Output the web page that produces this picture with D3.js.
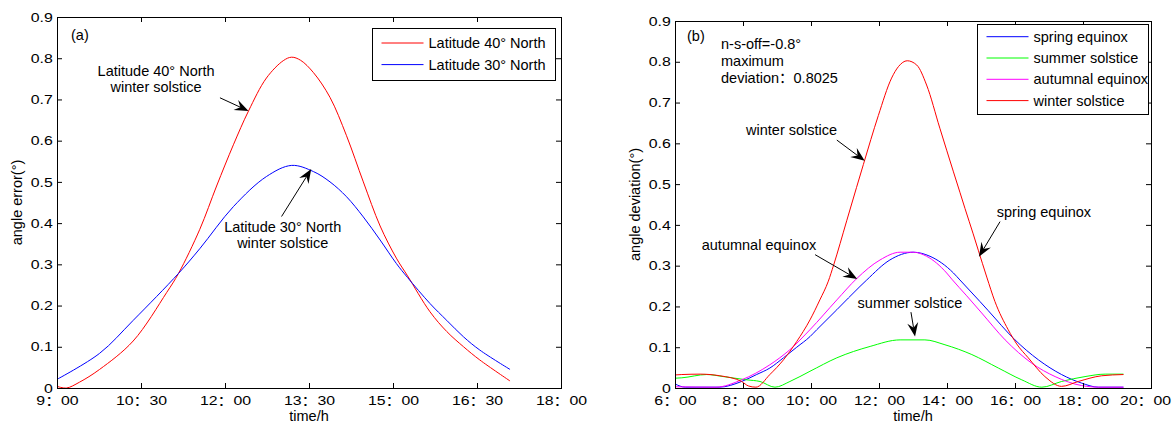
<!DOCTYPE html>
<html>
<head>
<meta charset="utf-8">
<script src="https://cdn.jsdelivr.net/npm/d3@7"></script>
<style>
body { margin: 0; background: #fff; }
text { font-family: "Liberation Sans", Arial, "Noto Sans CJK SC", sans-serif; }
</style>
</head>
<body>
<div id="chart"></div>
<script>
// ---- values ----

// axis ticks
const yTicks = [0, 0.1, 0.2, 0.3, 0.4, 0.5, 0.6, 0.7, 0.8, 0.9];
const yTickLabels = ["0", "0.1", "0.2", "0.3", "0.4", "0.5", "0.6", "0.7", "0.8", "0.9"];
const leftTicks = [9, 10.5, 12, 13.5, 15, 16.5, 18];
const leftTickLabels = ["9：00", "10：30", "12：00", "13：30", "15：00", "16：30", "18：00"];
const rightTicks = [6, 8, 10, 12, 14, 16, 18, 20];
const rightTickLabels = ["6：00", "8：00", "10：00", "12：00", "14：00", "16：00", "18：00", "20：00"];

// (a) angle error, winter solstice
const lat40Hours = [9.0, 9.17, 9.4, 9.76, 10.36, 10.96, 11.17, 11.55, 11.85, 12.15, 12.42, 12.74, 13.04, 13.19,
                    13.35, 13.58, 13.875, 14.17, 14.47, 14.77, 15.06, 15.26, 15.66, 15.96, 16.26, 16.55, 17.09];
const lat40Error = [0.004, 0.0, 0.014, 0.045, 0.114, 0.232, 0.278, 0.385, 0.49, 0.59, 0.672, 0.752, 0.794, 0.8025,
                    0.795, 0.765, 0.705, 0.612, 0.50, 0.393, 0.315, 0.272, 0.185, 0.137, 0.100, 0.068, 0.017];
const lat30Hours = [9.0, 9.76, 10.36, 11.17, 11.55, 12.15, 12.74, 13.19, 13.58, 13.875, 14.17, 14.47, 14.77,
                    15.06, 15.26, 15.66, 15.96, 16.26, 16.55, 17.09];
const lat30Error = [0.021, 0.084, 0.164, 0.278, 0.338, 0.44, 0.513, 0.54, 0.525, 0.50, 0.464, 0.415, 0.359,
                    0.302, 0.268, 0.205, 0.164, 0.124, 0.092, 0.045];

// (b) angle deviation, four seasons
const springHours = [6.0, 6.3, 7.3, 7.96, 8.4, 8.79, 9.19, 9.58, 9.97, 10.17, 10.76, 11.44, 11.64, 12.32, 13.01,
                     13.5, 14.19, 14.38, 14.97, 15.21, 16.0, 16.69, 17.37, 17.96, 18.45, 19.19];
const springDev = [0.010, 0.002, 0.002, 0.016, 0.033, 0.049, 0.074, 0.100, 0.126, 0.143, 0.192, 0.249, 0.265, 0.314, 0.333,
                   0.323, 0.282, 0.265, 0.212, 0.19, 0.118, 0.069, 0.033, 0.012, 0.002, 0.002];
const summerHours = [6.0, 6.2, 6.93, 7.42, 8.11, 8.5, 8.94, 9.38, 9.97, 10.76, 11.74, 12.62, 13.35, 13.94, 14.73,
                     15.51, 16.2, 16.79, 17.37, 18.06, 18.65, 19.19];
const summerDev = [0.024, 0.025, 0.033, 0.028, 0.020, 0.016, 0.002, 0.016, 0.041, 0.074, 0.102, 0.118, 0.118, 0.106, 0.082,
                   0.049, 0.020, 0.002, 0.016, 0.028, 0.034, 0.034];
const autumnHours = [6.0, 7.2, 7.96, 8.79, 9.38, 9.97, 10.76, 11.34, 12.03, 12.62, 13.01, 13.40, 13.99, 14.14, 14.58,
                     15.02, 15.71, 16.49, 17.18, 17.96, 18.5, 19.19];
const autumnDev = [0.003, 0.002, 0.020, 0.057, 0.094, 0.143, 0.216, 0.268, 0.314, 0.333, 0.333, 0.323, 0.282, 0.267, 0.226,
                   0.184, 0.118, 0.061, 0.028, 0.006, 0.002, 0.002];
const winterHours = [6.0, 6.2, 6.74, 7.32, 7.96, 8.16, 8.38, 8.79, 9.19, 9.58, 9.97, 10.26, 10.51, 10.66, 11.05, 11.34,
                     11.54, 11.98, 12.37, 12.57, 12.83, 13.11, 13.40, 13.79, 14.19, 14.38, 14.53, 14.77, 14.92, 15.17,
                     15.41, 15.80, 16.05, 16.39, 16.88, 17.37, 17.86, 18.55, 19.19];
const winterDev = [0.032, 0.033, 0.034, 0.030, 0.016, 0.005, 0.002, 0.033, 0.069, 0.114, 0.167, 0.216, 0.262, 0.30, 0.41, 0.492,
                   0.548, 0.668, 0.76, 0.788, 0.8025, 0.792, 0.743, 0.637, 0.53, 0.48, 0.44, 0.378, 0.338, 0.272,
                   0.212, 0.143, 0.108, 0.074, 0.028, 0.004, 0.016, 0.030, 0.033];

// ---- drawing ----
const W = 1175, H = 424;
const tickFont = 13, tickStretch = 1.22;   // tick labels in the figure are drawn wide
const textFont = 14.5;

const svg = d3.select("#chart").append("svg")
    .attr("width", W)
    .attr("height", H);
svg.append("rect").attr("width", W).attr("height", H).attr("fill", "#fff");

function arrow(g, x1, y1, x2, y2) {
    // black filled head with a notch, like the matlab annotation arrows
    const a = Math.atan2(y2 - y1, x2 - x1);
    const ux = Math.cos(a), uy = Math.sin(a);
    const nx = -uy, ny = ux;
    const L = 14, Wd = 5.5, notch = 5;
    const bx = x2 - L * ux, by = y2 - L * uy;
    const mx = x2 - (L - notch) * ux, my = y2 - (L - notch) * uy;
    g.append("line")
        .attr("x1", x1).attr("y1", y1).attr("x2", mx).attr("y2", my)
        .attr("stroke", "#000").attr("stroke-width", 1);
    g.append("path")
        .attr("d", `M${x2},${y2}L${bx + Wd * nx},${by + Wd * ny}L${mx},${my}L${bx - Wd * nx},${by - Wd * ny}Z`)
        .attr("fill", "#000");
}

function drawPanel(p) {
    const x = d3.scaleLinear().domain(p.xDomain).range([p.left, p.right]);
    const y = d3.scaleLinear().domain([0, 0.9]).range([p.bottom, p.top]);
    const g = svg.append("g");

    g.append("clipPath").attr("id", p.id)
        .append("rect")
        .attr("x", p.left).attr("y", p.top)
        .attr("width", p.right - p.left).attr("height", p.bottom - p.top);

    // curves
    const line = d3.line()
        .curve(p.curve)
        .x(d => x(d[0]))
        .y(d => y(d[1]));
    p.series.forEach(s => {
        g.append("path")
            .datum(d3.zip(s.hours, s.values))
            .attr("clip-path", `url(#${p.id})`)
            .attr("fill", "none")
            .attr("stroke", s.color)
            .attr("stroke-width", 1)
            .attr("d", line);
    });

    // axes, ticks pointing inward on all four sides
    const xl = g.append("g")
        .attr("transform", `translate(0,${p.bottom})`)
        .call(d3.axisBottom(x).tickValues(p.xTicks).tickFormat((d, i) => p.xLabels[i])
            .tickSizeInner(-5).tickSizeOuter(0).tickPadding(7.5))
        .attr("font-size", tickFont);
    xl.selectAll("text").attr("transform", `scale(${tickStretch},1)`);
    // keep the last label inside the page
    xl.selectAll(".tick text").filter((d, i, n) => i === n.length - 1 && x(d) + 30 > W)
        .attr("x", -(x(p.xTicks[p.xTicks.length - 1]) + 30 - W) / tickStretch);
    g.append("g")
        .attr("transform", `translate(${p.left},0)`)
        .call(d3.axisLeft(y).tickValues(yTicks).tickFormat((d, i) => yTickLabels[i])
            .tickSizeInner(-5).tickSizeOuter(0).tickPadding(3.5))
        .attr("font-size", tickFont)
        .selectAll("text").attr("transform", `scale(${tickStretch},1)`);
    g.append("g")
        .attr("transform", `translate(0,${p.top})`)
        .call(d3.axisTop(x).tickValues(p.xTicks).tickFormat("").tickSizeInner(-5).tickSizeOuter(0));
    g.append("g")
        .attr("transform", `translate(${p.right},0)`)
        .call(d3.axisRight(y).tickValues(yTicks).tickFormat("").tickSizeInner(-5).tickSizeOuter(0));

    // axis titles
    g.append("text")
        .attr("x", (p.left + p.right) / 2)
        .attr("y", 421)
        .attr("text-anchor", "middle")
        .attr("font-size", textFont)
        .text("time/h");
    g.append("text")
        .attr("transform", `translate(${p.left - 35.5},${(p.top + p.bottom) / 2}) rotate(-90)`)
        .attr("text-anchor", "middle")
        .attr("font-size", textFont)
        .text(p.yTitle);

    // free text
    p.notes.forEach(n => {
        const t = g.append("text")
            .attr("x", n.px)
            .attr("y", n.py)
            .attr("font-size", textFont);
        n.lines.forEach((s, i) => {
            t.append("tspan").attr("x", n.px).attr("dy", i === 0 ? 0 : 17).text(s);
        });
    });

    // annotations with arrows (data coordinates)
    p.arrows.forEach(a => {
        const t = g.append("text")
            .attr("x", x(a.textAt[0]))
            .attr("y", y(a.textAt[1]))
            .attr("text-anchor", "middle")
            .attr("font-size", textFont);
        a.lines.forEach((s, i) => {
            t.append("tspan").attr("x", x(a.textAt[0])).attr("dy", i === 0 ? 0 : 16).text(s);
        });
        arrow(g, x(a.from[0]), y(a.from[1]), x(a.to[0]), y(a.to[1]));
    });

    // legend
    const lg = g.append("g");
    lg.append("rect")
        .attr("x", p.legend.x).attr("y", p.legend.y)
        .attr("width", p.legend.w).attr("height", p.legend.h)
        .attr("fill", "#fff").attr("stroke", "#000").attr("stroke-width", 1);
    p.legend.order.forEach((k, i) => {
        const s = p.series[k];
        const ry = p.legend.y + p.legend.first + i * p.legend.step;
        lg.append("line")
            .attr("x1", p.legend.x + 9).attr("x2", p.legend.x + 51)
            .attr("y1", ry).attr("y2", ry)
            .attr("stroke", s.color).attr("stroke-width", 1);
        lg.append("text")
            .attr("x", p.legend.x + 56)
            .attr("y", ry + 5)
            .attr("font-size", textFont)
            .text(s.name);
    });

    // plot box
    g.append("rect")
        .attr("x", p.left + 0.5).attr("y", p.top + 0.5)
        .attr("width", p.right - p.left).attr("height", p.bottom - p.top)
        .attr("fill", "none").attr("stroke", "#000").attr("stroke-width", 1);
}

drawPanel({
    id: "clipA",
    left: 57, right: 561, top: 17, bottom: 388,
    xDomain: [9, 18], xTicks: leftTicks, xLabels: leftTickLabels,
    curve: d3.curveCatmullRom,
    yTitle: "angle error(°)",
    series: [
        {name: "Latitude 40° North", color: "#ff0000", hours: lat40Hours, values: lat40Error},
        {name: "Latitude 30° North", color: "#0000ff", hours: lat30Hours, values: lat30Error}
    ],
    notes: [{px: 71, py: 40, lines: ["(a)"]}],
    arrows: [
        {lines: ["Latitude 40° North", "winter solstice"], textAt: [10.77, 0.757], from: [11.91, 0.704], to: [12.42, 0.672]},
        {lines: ["Latitude 30° North", "winter solstice"], textAt: [13.03, 0.379], from: [13.01, 0.416], to: [13.54, 0.531]}
    ],
    legend: {x: 372.5, y: 28.5, w: 183, h: 52, first: 14.5, step: 21.6, order: [0, 1]}
});

drawPanel({
    id: "clipB",
    left: 675, right: 1151, top: 21, bottom: 388,
    xDomain: [6, 20], xTicks: rightTicks, xLabels: rightTickLabels,
    curve: d3.curveMonotoneX,
    yTitle: "angle deviation(°)",
    series: [
        {name: "spring equinox", color: "#0000ff", hours: springHours, values: springDev},
        {name: "summer solstice", color: "#00ff00", hours: summerHours, values: summerDev},
        {name: "autumnal equinox", color: "#ff00ff", hours: autumnHours, values: autumnDev},
        {name: "winter solstice", color: "#ff0000", hours: winterHours, values: winterDev}
    ],
    notes: [
        {px: 687, py: 41, lines: ["(b)"]},
        {px: 721, py: 49, lines: ["n-s-off=-0.8°", "maximum", "deviation：0.8025"]}
    ],
    arrows: [
        {lines: ["winter solstice"], textAt: [9.43, 0.621], from: [10.76, 0.608], to: [11.58, 0.557]},
        {lines: ["autumnal equinox"], textAt: [8.47, 0.338], from: [10.12, 0.327], to: [11.36, 0.267]},
        {lines: ["summer solstice"], textAt: [12.91, 0.195], from: [12.94, 0.186], to: [13.06, 0.126]},
        {lines: ["spring equinox"], textAt: [16.85, 0.42], from: [15.56, 0.408], to: [14.94, 0.322]}
    ],
    legend: {x: 977.5, y: 24.5, w: 171, h: 90, first: 12.2, step: 21.3, order: [0, 1, 2, 3]}
});
</script>
</body>
</html>
